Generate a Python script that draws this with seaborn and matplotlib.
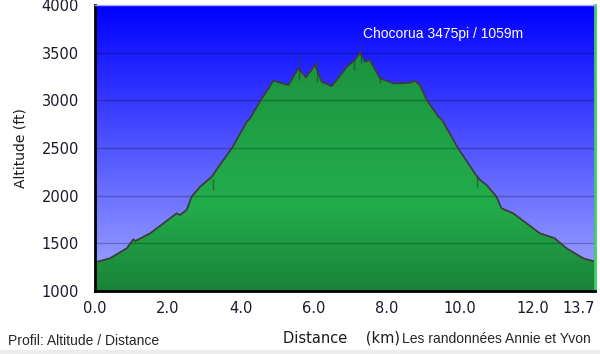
import matplotlib.pyplot as plt
import seaborn as sns
import numpy as np
from matplotlib.colors import LinearSegmentedColormap

# Profil altitude / distance
dist_km = [0.00, 0.41, 0.87, 1.05, 1.10, 1.51, 2.24, 2.33, 2.51, 2.65, 2.88, 3.20,
           3.42, 3.75, 4.16, 4.25, 4.57, 4.70, 4.84, 4.88, 5.30, 5.57, 5.78, 6.03,
           6.21, 6.48, 6.62, 6.80, 6.90, 7.12, 7.26, 7.40, 7.53, 7.81, 8.17, 8.36,
           8.63, 8.77, 8.90, 9.09, 9.41, 9.50, 9.95, 10.41, 10.55, 10.73, 11.00,
           11.14, 11.46, 12.19, 12.60, 12.65, 12.92, 13.38, 13.70]
alt_ft = [1300, 1343, 1448, 1542, 1524, 1605, 1815, 1797, 1850, 1990, 2094, 2199,
          2322, 2497, 2776, 2811, 3021, 3091, 3179, 3206, 3161, 3336, 3242, 3371,
          3196, 3150, 3213, 3301, 3353, 3423, 3500, 3405, 3423, 3231, 3179, 3179,
          3185, 3206, 3161, 3004, 2829, 2801, 2497, 2234, 2164, 2112, 1990,
          1867, 1815, 1605, 1553, 1535, 1448, 1343, 1308]

# petits traits verticaux (points de passage)
mark_km = [3.24, 5.60, 6.07, 7.11, 7.28, 7.81, 10.46]
mark_top = [2175, 3476, 3444, 3423, 3615, 3248, 2200]
mark_bot = [2060, 3213, 3192, 3318, 3392, 3182, 2090]

x_ticks = [0, 2, 4, 6, 8, 10, 12, 13.7]
x_labels = ['0.0', '2.0', '4.0', '6.0', '8.0', '10.0', '12.0', '13.7']
y_ticks = [1000, 1500, 2000, 2500, 3000, 3500, 4000]

sns.set_style('white')
plt.rcParams['font.family'] = ['DejaVu Sans']

fig = plt.figure(figsize=(6, 3.54), dpi=100)
fig.patch.set_facecolor('white')
ax = fig.add_axes([95 / 600, 63 / 354, 500 / 600, 286 / 354])

# fond bleu dégradé
sky = LinearSegmentedColormap.from_list('sky', ['#a3aaff', '#0000ff'])
grad = np.linspace(0, 1, 256).reshape(-1, 1)
ax.imshow(grad, cmap=sky, origin='lower', aspect='auto',
          extent=[0, 13.7, 1000, 4000], zorder=0)

# remplissage vert dégradé
greens = LinearSegmentedColormap.from_list(
    'grn', [(0, '#1b8239'), (0.3, '#22ad4b'), (0.5, '#21a447'), (1, '#1a8a3a')])
im = ax.imshow(grad, cmap=greens, origin='lower', aspect='auto',
               extent=[0, 13.7, 1000, 4000], zorder=1)
poly = ax.fill_between(dist_km, alt_ft, 1000, facecolor='none', edgecolor='none')
im.set_clip_path(poly.get_paths()[0], transform=ax.transData)

sns.lineplot(x=dist_km, y=alt_ft, ax=ax, color='#3d3d3d', lw=1.3, zorder=3)
ax.vlines(mark_km, mark_bot, mark_top, color='#24403a', lw=1, alpha=0.6, zorder=3)

for yv in y_ticks[1:-1]:
    ax.axhline(yv, color='black', alpha=0.25, lw=1, zorder=2)

ax.set_xlim(0, 13.7)
ax.set_ylim(1000, 4000)
ax.set_xticks(x_ticks)
ax.set_xticklabels(x_labels)
ax.get_xticklabels()[-1].set_horizontalalignment('right')
ax.set_yticks(y_ticks)
ax.tick_params(axis='both', direction='inout', length=7, width=1.5,
               colors='black', labelcolor='#1a1a2a', labelsize=10.5)
ax.tick_params(axis='x', pad=4)
ax.tick_params(axis='y', pad=8)

for s in ['left', 'bottom']:
    ax.spines[s].set_color('black')
    ax.spines[s].set_linewidth(2)
ax.spines['top'].set_color('#a8a8ff')
ax.spines['top'].set_linewidth(1)
ax.spines['right'].set_color('#3fcf62')
ax.spines['right'].set_linewidth(2)
for s in ax.spines.values():
    s.set_zorder(5)

ax.set_ylabel('Altitude (ft)', fontsize=10, color='#1a1a1a', labelpad=10)
ax.set_xlabel('')

ax.text(7.34, 3696, 'Chocorua 3475pi / 1059m', color='white', fontsize=10,
        family='Liberation Sans', ha='left', va='center', zorder=6)

fig.text(283 / 600, 1 - 338 / 354, 'Distance    (km)', fontsize=10.5,
         color='#1a1a1a', ha='left', va='center')
fig.text(8 / 600, 1 - 341 / 354, 'Profil: Altitude / Distance', fontsize=10,
         family='Liberation Sans', ha='left', va='center')
fig.text(402 / 600, 1 - 339 / 354, 'Les randonnées Annie et Yvon', fontsize=10,
         family='Liberation Sans', ha='left', va='center')

# bande grise en bas
fig.patches.append(plt.Rectangle((0, 0), 1, 4 / 354, transform=fig.transFigure,
                                 color='#ececec', zorder=0))

fig.savefig('out.png', dpi=100)
